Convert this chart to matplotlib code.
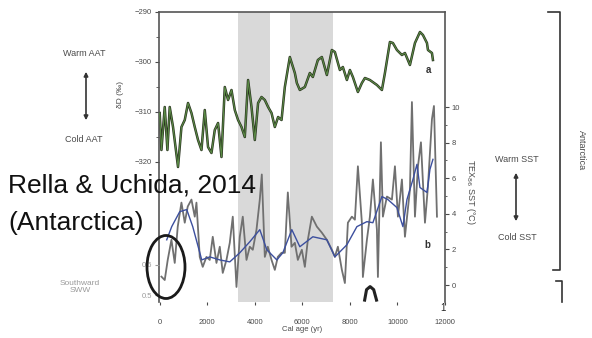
import numpy as np
import matplotlib.pyplot as plt
from matplotlib.patches import Ellipse, FancyArrowPatch

plt.rcParams['font.family'] = ['Liberation Sans', 'DejaVu Sans']

# --- data ---
dd_age = [0, 72, 211, 324, 421, 560, 770, 914, 1053, 1191, 1335, 1474, 1612, 1756, 1895,
          2033, 2177, 2316, 2454, 2598, 2737, 2875, 3019, 3158, 3296, 3440, 3579, 3717,
          3861, 4000, 4138, 4282, 4421, 4559, 4703, 4842, 4980, 5124, 5263, 5473, 5684,
          5768, 5894, 6105, 6315, 6441, 6652, 6820, 7031, 7241, 7368, 7578, 7704, 7873,
          8000, 8125, 8336, 8504, 8631, 8841, 9136, 9346, 9473, 9683, 9809, 9978, 10188,
          10315, 10525, 10736, 10946, 11072, 11241, 11283, 11451, 11493]
dd_val = [-310.2, -317.6, -309.0, -317.6, -309.0, -313.0, -321.0, -313.0, -311.6, -308.2,
          -310.2, -313.0, -315.6, -317.6, -309.6, -317.0, -318.2, -313.6, -312.2, -319.0,
          -305.0, -307.6, -305.6, -309.6, -311.6, -313.0, -315.0, -303.6, -309.0, -315.6,
          -308.2, -307.0, -307.6, -309.0, -310.2, -313.0, -311.0, -311.6, -305.0, -299.0,
          -302.2, -304.2, -305.6, -305.0, -302.2, -303.0, -299.6, -299.0, -302.6, -297.6,
          -298.0, -301.6, -301.0, -303.6, -301.6, -303.0, -306.0, -304.2, -303.2, -303.6,
          -304.6, -305.6, -302.2, -296.0, -296.2, -297.6, -298.6, -298.2, -300.6, -296.2,
          -294.0, -294.6, -296.2, -297.6, -298.2, -299.6]

sst_age = [72, 211, 337, 493, 632, 758, 914, 1053, 1179, 1335, 1474, 1545, 1684, 1810, 1966,
           2105, 2231, 2387, 2526, 2652, 2808, 2947, 3073, 3229, 3368, 3494, 3650, 3789,
           3915, 4071, 4210, 4294, 4421, 4547, 4703, 4842, 4968, 5124, 5263, 5389, 5545,
           5684, 5810, 5978, 6105, 6231, 6399, 6610, 6820, 7031, 7241, 7368, 7494, 7662,
           7789, 7915, 8083, 8210, 8336, 8504, 8546, 8715, 8841, 8967, 9136, 9178, 9304,
           9388, 9557, 9767, 9894, 10020, 10188, 10315, 10525, 10609, 10736, 10862, 10988,
           11157, 11283, 11451, 11535, 11662]
sst_val = [0.47, 0.28, 1.41, 2.54, 1.24, 3.28, 4.63, 3.50, 4.41, 4.80, 3.84, 4.63, 1.58, 1.02,
           1.58, 1.41, 2.71, 1.24, 2.15, 0.68, 1.41, 2.37, 3.84, -0.11, 2.71, 3.84, 1.41,
           2.15, 1.98, 3.11, 4.80, 6.21, 1.58, 2.15, 1.41, 0.85, 1.58, 1.81, 1.81, 5.20,
           2.15, 2.37, 1.41, 1.98, 1.02, 2.54, 3.84, 3.28, 2.94, 2.54, 1.98, 1.58, 2.15,
           0.85, 0.11, 3.50, 3.84, 3.67, 6.67, 3.50, 0.45, 2.54, 3.84, 5.93, 3.11, 0.45,
           8.02, 3.84, 4.97, 4.80, 6.67, 3.84, 5.93, 2.71, 5.37, 10.28, 3.84, 6.67, 8.02,
           3.50, 5.54, 9.32, 10.06, 3.84]

smooth_age = [295, 505, 842, 1137, 1389, 1768, 2105, 2526, 2947, 3368, 3789, 4210, 4505,
              4926, 5178, 5557, 5894, 6441, 7031, 7368, 7873, 8294, 8715, 8967, 9346, 9599,
              9978, 10230, 10399, 10651, 10820, 10946, 11241, 11367, 11493]
smooth_val = [2.54, 3.28, 4.12, 4.24, 3.28, 1.41, 1.58, 1.41, 1.30, 1.81, 2.43, 3.11, 1.98,
              1.41, 1.81, 3.11, 2.15, 2.71, 2.54, 1.58, 2.26, 3.28, 3.56, 3.50, 4.97, 4.80,
              4.35, 3.28, 4.80, 5.93, 6.78, 5.48, 5.20, 6.50, 7.06]

sww_age = [8620, 8700, 8850, 9000, 9120]
sww_val = [0.483, 0.518, 0.528, 0.518, 0.483]

cold_events = [(3300, 4630), (5470, 7280)]
age_ticks = [0, 2000, 4000, 6000, 8000, 10000, 12000]

txt = '#4a4a4a'

fig = plt.figure(figsize=(5.92, 3.38), dpi=100)
W, H = 592, 338
x0, x1, y0, y1 = 159, 445, 12, 302
ax = fig.add_axes([x0 / W, 1 - y1 / H, (x1 - x0) / W, (y1 - y0) / H])

# delta D panel
for a, b in cold_events:
    ax.axvspan(a, b, color='#d9d9d9', lw=0, zorder=0)
ax.plot(dd_age, dd_val, color='#2a3320', lw=1.8, zorder=2)
ax.plot(dd_age, dd_val, color='#5a8a45', lw=0.8, zorder=3)
ax.set_xlim(-30, 12000)
ax.set_ylim(-348, -290)
ax.set_yticks([-290, -300, -310, -320])
ax.set_yticks([-295, -305, -315], minor=True)
ax.set_xticks(age_ticks)
ax.tick_params(axis='y', which='both', direction='out', length=3, labelsize=5.5,
               colors=txt, pad=2)
ax.tick_params(axis='y', which='minor', length=2)
ax.tick_params(axis='x', direction='out', length=2.5, labelsize=5.5, colors=txt, pad=10)
ax.spines['bottom'].set_visible(False)
ax.spines['right'].set_visible(False)
for s in ['top', 'left']:
    ax.spines[s].set_color('#555555')
    ax.spines[s].set_linewidth(1.2)
ax.set_xlabel('Cal age (yr)', fontsize=5.5, color=txt, labelpad=0)

# TEX86 SST panel
ax2 = ax.twinx()
ax2.plot(sst_age, sst_val, color='#707070', lw=1.3, zorder=2)
ax2.plot(smooth_age, smooth_val, color='#3c4f9e', lw=1.0, zorder=3)
ax2.set_ylim(-0.955, 15.34)
ax2.set_yticks([0, 2, 4, 6, 8, 10])
ax2.set_yticks([1, 3, 5, 7, 9], minor=True)
ax2.tick_params(axis='y', which='both', direction='out', length=3, labelsize=5.5,
                colors=txt, pad=2)
ax2.tick_params(axis='y', which='minor', length=1.5)
for s in ['top', 'left', 'bottom']:
    ax2.spines[s].set_visible(False)
ax2.spines['right'].set_color('#555555')
ax2.spines['right'].set_linewidth(1.2)

# SWW panel (fragment)
ax3 = ax.twinx()
ax3.plot(sww_age, sww_val, color='#222222', lw=2.2)
ax3.set_ylim(0.4767, 1.443)
ax3.yaxis.tick_left()
ax3.set_yticks([0.5, 0.6])
ax3.set_yticklabels(['0.5', '0.6'])
ax3.tick_params(axis='y', direction='out', length=3, labelsize=5.5, colors='#9a9a9a', pad=2)
for s in ax3.spines.values():
    s.set_visible(False)

# annotation overlay in pixel coordinates
ov = fig.add_axes([0, 0, 1, 1])
ov.set_xlim(0, W)
ov.set_ylim(H, 0)
ov.set_axis_off()

ov.text(120, 95, 'δD (‰)', rotation=90, fontsize=6, color=txt, ha='center', va='center')
ov.text(471, 192, 'TEX$_{86}$ SST (°C)', rotation=-90, fontsize=6.5, color=txt,
        ha='center', va='center')
ov.text(581, 150, 'Antarctica', rotation=-90, fontsize=6.5, color=txt, ha='center', va='center')

ov.text(84, 53, 'Warm AAT', fontsize=6.5, color=txt, ha='center', va='center')
ov.text(84, 140, 'Cold AAT', fontsize=6.5, color=txt, ha='center', va='center')
ov.add_patch(FancyArrowPatch((86, 69), (86, 123), arrowstyle='<|-|>', mutation_scale=6,
                             color='#333333', lw=1.2))
ov.text(517, 160, 'Warm SST', fontsize=6.5, color=txt, ha='center', va='center')
ov.text(517, 238, 'Cold SST', fontsize=6.5, color=txt, ha='center', va='center')
ov.add_patch(FancyArrowPatch((516, 170), (516, 224), arrowstyle='<|-|>', mutation_scale=6,
                             color='#333333', lw=1.2))
ov.text(80, 287, 'Southward\nSWW', fontsize=6, color='#9a9a9a', ha='center', va='center',
        linespacing=1.1)

ov.text(428, 70, 'a', fontsize=7, fontweight='bold', color='#333333', ha='center', va='center')
ov.text(427, 245, 'b', fontsize=7, fontweight='bold', color='#333333', ha='center', va='center')
ov.text(443, 308, '1', fontsize=7, color='#222222', ha='center', va='center')

# bracket on the right
ov.plot([548, 560, 560, 553], [12, 12, 270, 270], color='#333333', lw=1.2)
ov.plot([556, 562, 562], [281, 281, 302], color='#333333', lw=1.2)

ov.text(8, 185, 'Rella & Uchida, 2014', fontsize=19, color='#111111', ha='left', va='center')
ov.text(8, 223, '(Antarctica)', fontsize=19, color='#111111', ha='left', va='center')
ov.add_patch(Ellipse((166, 267), 38, 63, fill=False, ec='#1a1a1a', lw=2))

fig.savefig('out.png', dpi=100)
